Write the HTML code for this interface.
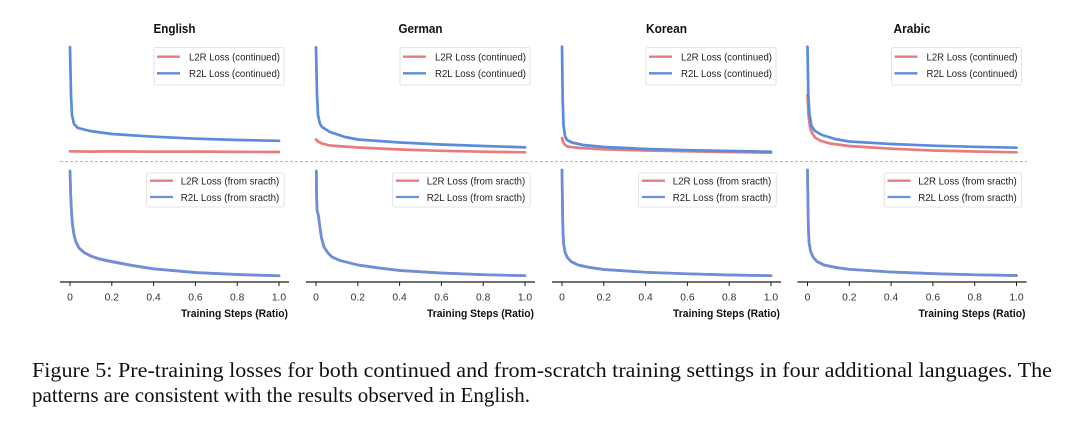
<!DOCTYPE html>
<html>
<head>
<meta charset="utf-8">
<style>
  html, body { margin:0; padding:0; background:#fff; }
  body { width:1080px; height:430px; overflow:hidden; }
  svg { display:block; }
  .sans { font-family: "Liberation Sans", "DejaVu Sans", sans-serif; }
  .serif { font-family: "Liberation Serif", "DejaVu Serif", serif; }
</style>
</head>
<body>
<svg width="1080" height="430" viewBox="0 0 1080 430" xmlns="http://www.w3.org/2000/svg">
  <rect width="1080" height="430" fill="#fff"/>

  <!-- Titles -->
  <g class="sans" font-weight="bold" font-size="12.5" fill="#111" text-anchor="middle">
    <text x="174.5" y="33" textLength="42" lengthAdjust="spacingAndGlyphs">English</text>
    <text x="420.5" y="33" textLength="44" lengthAdjust="spacingAndGlyphs">German</text>
    <text x="666.5" y="33" textLength="41" lengthAdjust="spacingAndGlyphs">Korean</text>
    <text x="912" y="33" textLength="37" lengthAdjust="spacingAndGlyphs">Arabic</text>
  </g>

  <!-- Dashed separator -->
  <line x1="60" y1="161.5" x2="1027" y2="161.5" stroke="#b5b5b5" stroke-width="0.9" stroke-dasharray="3,2"/>

  <g fill="none" stroke-linejoin="round" stroke-linecap="round" stroke-width="2.7">
    <!-- ===== TOP: English ===== -->
    <polyline stroke="#e77c7e" points="70,151.3 90,151.6 112,151.4 154,151.7 196,151.6 238,151.9 279,152"/>
    <polyline stroke="#5b8bdb" points="70,47 71,95 72,115 74,124 78,128 90,131 112,134 154,136.7 196,138.7 238,140 279,140.8"/>

    <!-- ===== TOP: German ===== -->
    <polyline stroke="#e77c7e" points="316,139.5 318,141.5 322,143.5 330,145.5 358,147.5 400,149.5 441,150.8 483,151.7 525,152.3"/>
    <polyline stroke="#5b8bdb" points="316,47.3 317,95 318,115 320,124 322,127 330,132 345,137 358,139.5 400,142.5 441,144.5 483,146 525,147.3"/>

    <!-- ===== TOP: Korean ===== -->
    <polyline stroke="#e77c7e" points="562,138 563,142 565,145 568,146.7 580,148 604,149.3 646,150.5 688,151.3 730,152 771,152.7"/>
    <polyline stroke="#5b8bdb" points="562,46.7 562.7,100 563.5,125 565,136 567,140 572,142.5 583,145 604,147 646,149 688,150.2 730,151 771,151.7"/>

    <!-- ===== TOP: Arabic ===== -->
    <polyline stroke="#e77c7e" points="807.5,95 808.5,115 810,127 812,133 815,137.5 820,140.5 830,143.5 849,146 891,148.7 933,150.5 975,151.5 1016.5,152.3"/>
    <polyline stroke="#5b8bdb" points="807.5,46.7 808.3,95 809.5,115 811.5,126 815,131 822,135 835,139 849,141.5 891,144 933,145.7 975,146.8 1016.5,147.7"/>

    <!-- ===== BOTTOM: English ===== -->
    <polyline stroke="#e77c7e" points="70,171 70.7,195 71.5,212 72.5,225 74,235 76,242 79,248 84,252.5 91,256.3 100,259.3 112,261.9 133,265.8 154,269 196,272.7 238,274.7 279,275.8"/>
    <polyline stroke="#6a8fdc" points="70,171 70.7,195 71.5,212 72.5,225 74,235 76,242 79,248 84,252.5 91,256 100,259 112,261.5 133,265.5 154,268.8 196,272.5 238,274.5 279,275.7"/>

    <!-- ===== BOTTOM: German ===== -->
    <polyline stroke="#e77c7e" points="316.3,171 316.6,195 317,210 318.5,216 320,228 321.5,238 324,247 328,253 332,257 340,260.5 358,265 379,268 400,270.5 441,273 483,274.7 525,275.7"/>
    <polyline stroke="#6a8fdc" points="316.3,171 316.6,195 317,210 318.5,216 320,228 321.5,238 324,247 328,253 332,257 340,260.5 358,265 379,268 400,270.5 441,273 483,274.7 525,275.7"/>

    <!-- ===== BOTTOM: Korean ===== -->
    <polyline stroke="#e77c7e" points="562,170 562.4,200 562.8,225 563.5,243 565,252 567,257 571,261.5 578,265 590,267.5 604,269.5 646,272.3 688,273.8 730,275 771,275.7"/>
    <polyline stroke="#6a8fdc" points="562,170 562.4,200 562.8,225 563.5,243 565,252 567,257 571,261.5 578,265 590,267.5 604,269.5 646,272.3 688,273.8 730,275 771,275.7"/>

    <!-- ===== BOTTOM: Arabic ===== -->
    <polyline stroke="#e77c7e" points="807.5,170 807.9,200 808.3,225 809,242 810.5,251 813,257 817,261.5 824,265 836,267.5 849,269.3 891,272 933,273.6 975,274.8 1016.5,275.5"/>
    <polyline stroke="#6a8fdc" points="807.5,170 807.9,200 808.3,225 809,242 810.5,251 813,257 817,261.5 824,265 836,267.5 849,269.3 891,272 933,273.6 975,274.8 1016.5,275.5"/>
  </g>

  <!-- Top legends -->
  <g class="sans" font-size="10.3" fill="#222">
    <!-- English -->
    <rect x="154" y="47.5" width="130" height="37.5" rx="2" fill="#fff" fill-opacity="0.9" stroke="#dcdcdc" stroke-width="0.8"/>
    <line x1="157" y1="56.7" x2="180" y2="56.7" stroke="#e77c7e" stroke-width="2.3"/>
    <line x1="157" y1="73.3" x2="180" y2="73.3" stroke="#5b8bdb" stroke-width="2.3"/>
    <text x="189" y="60.5" textLength="91" lengthAdjust="spacingAndGlyphs">L2R Loss (continued)</text>
    <text x="189" y="77.1" textLength="91" lengthAdjust="spacingAndGlyphs">R2L Loss (continued)</text>
    <!-- German -->
    <rect x="400" y="47.5" width="130" height="37.5" rx="2" fill="#fff" fill-opacity="0.9" stroke="#dcdcdc" stroke-width="0.8"/>
    <line x1="403" y1="56.7" x2="426" y2="56.7" stroke="#e77c7e" stroke-width="2.3"/>
    <line x1="403" y1="73.3" x2="426" y2="73.3" stroke="#5b8bdb" stroke-width="2.3"/>
    <text x="435" y="60.5" textLength="91" lengthAdjust="spacingAndGlyphs">L2R Loss (continued)</text>
    <text x="435" y="77.1" textLength="91" lengthAdjust="spacingAndGlyphs">R2L Loss (continued)</text>
    <!-- Korean -->
    <rect x="646" y="47.5" width="130" height="37.5" rx="2" fill="#fff" fill-opacity="0.9" stroke="#dcdcdc" stroke-width="0.8"/>
    <line x1="649" y1="56.7" x2="672" y2="56.7" stroke="#e77c7e" stroke-width="2.3"/>
    <line x1="649" y1="73.3" x2="672" y2="73.3" stroke="#5b8bdb" stroke-width="2.3"/>
    <text x="681" y="60.5" textLength="91" lengthAdjust="spacingAndGlyphs">L2R Loss (continued)</text>
    <text x="681" y="77.1" textLength="91" lengthAdjust="spacingAndGlyphs">R2L Loss (continued)</text>
    <!-- Arabic -->
    <rect x="891.5" y="47.5" width="130" height="37.5" rx="2" fill="#fff" fill-opacity="0.9" stroke="#dcdcdc" stroke-width="0.8"/>
    <line x1="894.5" y1="56.7" x2="917.5" y2="56.7" stroke="#e77c7e" stroke-width="2.3"/>
    <line x1="894.5" y1="73.3" x2="917.5" y2="73.3" stroke="#5b8bdb" stroke-width="2.3"/>
    <text x="926.5" y="60.5" textLength="91" lengthAdjust="spacingAndGlyphs">L2R Loss (continued)</text>
    <text x="926.5" y="77.1" textLength="91" lengthAdjust="spacingAndGlyphs">R2L Loss (continued)</text>
  </g>

  <!-- Bottom legends -->
  <g class="sans" font-size="10.3" fill="#222">
    <!-- English -->
    <rect x="146.7" y="173" width="137.5" height="34" rx="2" fill="#fff" fill-opacity="0.9" stroke="#dcdcdc" stroke-width="0.8"/>
    <line x1="150" y1="180.7" x2="173" y2="180.7" stroke="#e77c7e" stroke-width="2.3"/>
    <line x1="150" y1="197" x2="173" y2="197" stroke="#6a8fdc" stroke-width="2.3"/>
    <text x="180.7" y="184.5" textLength="98.6" lengthAdjust="spacingAndGlyphs">L2R Loss (from sracth)</text>
    <text x="180.7" y="200.8" textLength="98.6" lengthAdjust="spacingAndGlyphs">R2L Loss (from sracth)</text>
    <!-- German -->
    <rect x="392.7" y="173" width="137.5" height="34" rx="2" fill="#fff" fill-opacity="0.9" stroke="#dcdcdc" stroke-width="0.8"/>
    <line x1="396" y1="180.7" x2="419" y2="180.7" stroke="#e77c7e" stroke-width="2.3"/>
    <line x1="396" y1="197" x2="419" y2="197" stroke="#6a8fdc" stroke-width="2.3"/>
    <text x="426.7" y="184.5" textLength="98.6" lengthAdjust="spacingAndGlyphs">L2R Loss (from sracth)</text>
    <text x="426.7" y="200.8" textLength="98.6" lengthAdjust="spacingAndGlyphs">R2L Loss (from sracth)</text>
    <!-- Korean -->
    <rect x="638.7" y="173" width="137.5" height="34" rx="2" fill="#fff" fill-opacity="0.9" stroke="#dcdcdc" stroke-width="0.8"/>
    <line x1="642" y1="180.7" x2="665" y2="180.7" stroke="#e77c7e" stroke-width="2.3"/>
    <line x1="642" y1="197" x2="665" y2="197" stroke="#6a8fdc" stroke-width="2.3"/>
    <text x="672.7" y="184.5" textLength="98.6" lengthAdjust="spacingAndGlyphs">L2R Loss (from sracth)</text>
    <text x="672.7" y="200.8" textLength="98.6" lengthAdjust="spacingAndGlyphs">R2L Loss (from sracth)</text>
    <!-- Arabic -->
    <rect x="884.2" y="173" width="137.5" height="34" rx="2" fill="#fff" fill-opacity="0.9" stroke="#dcdcdc" stroke-width="0.8"/>
    <line x1="887.5" y1="180.7" x2="910.5" y2="180.7" stroke="#e77c7e" stroke-width="2.3"/>
    <line x1="887.5" y1="197" x2="910.5" y2="197" stroke="#6a8fdc" stroke-width="2.3"/>
    <text x="918.2" y="184.5" textLength="98.6" lengthAdjust="spacingAndGlyphs">L2R Loss (from sracth)</text>
    <text x="918.2" y="200.8" textLength="98.6" lengthAdjust="spacingAndGlyphs">R2L Loss (from sracth)</text>
  </g>

  <!-- X axes -->
  <g stroke="#1a1a1a" stroke-width="1.3">
    <line x1="60" y1="282" x2="289" y2="282"/>
    <line x1="306" y1="282" x2="535" y2="282"/>
    <line x1="552" y1="282" x2="781" y2="282"/>
    <line x1="797.5" y1="282" x2="1026.5" y2="282"/>
  </g>
  <g stroke="#1a1a1a" stroke-width="1">
    <line x1="70" y1="282" x2="70" y2="286"/><line x1="111.8" y1="282" x2="111.8" y2="286"/><line x1="153.6" y1="282" x2="153.6" y2="286"/><line x1="195.4" y1="282" x2="195.4" y2="286"/><line x1="237.2" y1="282" x2="237.2" y2="286"/><line x1="279" y1="282" x2="279" y2="286"/>
    <line x1="316" y1="282" x2="316" y2="286"/><line x1="357.8" y1="282" x2="357.8" y2="286"/><line x1="399.6" y1="282" x2="399.6" y2="286"/><line x1="441.4" y1="282" x2="441.4" y2="286"/><line x1="483.2" y1="282" x2="483.2" y2="286"/><line x1="525" y1="282" x2="525" y2="286"/>
    <line x1="562" y1="282" x2="562" y2="286"/><line x1="603.8" y1="282" x2="603.8" y2="286"/><line x1="645.6" y1="282" x2="645.6" y2="286"/><line x1="687.4" y1="282" x2="687.4" y2="286"/><line x1="729.2" y1="282" x2="729.2" y2="286"/><line x1="771" y1="282" x2="771" y2="286"/>
    <line x1="807.5" y1="282" x2="807.5" y2="286"/><line x1="849.3" y1="282" x2="849.3" y2="286"/><line x1="891.1" y1="282" x2="891.1" y2="286"/><line x1="932.9" y1="282" x2="932.9" y2="286"/><line x1="974.7" y1="282" x2="974.7" y2="286"/><line x1="1016.5" y1="282" x2="1016.5" y2="286"/>
  </g>

  <!-- Tick labels -->
  <g class="sans" font-size="10.3" fill="#333" text-anchor="middle">
    <text x="70" y="300.5">0</text><text x="111.8" y="300.5">0.2</text><text x="153.6" y="300.5">0.4</text><text x="195.4" y="300.5">0.6</text><text x="237.2" y="300.5">0.8</text><text x="279" y="300.5">1.0</text>
    <text x="316" y="300.5">0</text><text x="357.8" y="300.5">0.2</text><text x="399.6" y="300.5">0.4</text><text x="441.4" y="300.5">0.6</text><text x="483.2" y="300.5">0.8</text><text x="525" y="300.5">1.0</text>
    <text x="562" y="300.5">0</text><text x="603.8" y="300.5">0.2</text><text x="645.6" y="300.5">0.4</text><text x="687.4" y="300.5">0.6</text><text x="729.2" y="300.5">0.8</text><text x="771" y="300.5">1.0</text>
    <text x="807.5" y="300.5">0</text><text x="849.3" y="300.5">0.2</text><text x="891.1" y="300.5">0.4</text><text x="932.9" y="300.5">0.6</text><text x="974.7" y="300.5">0.8</text><text x="1016.5" y="300.5">1.0</text>
  </g>

  <!-- X labels -->
  <g class="sans" font-size="10.8" font-weight="bold" fill="#111">
    <text x="181" y="317" textLength="107" lengthAdjust="spacingAndGlyphs">Training Steps (Ratio)</text>
    <text x="427" y="317" textLength="107" lengthAdjust="spacingAndGlyphs">Training Steps (Ratio)</text>
    <text x="673" y="317" textLength="107" lengthAdjust="spacingAndGlyphs">Training Steps (Ratio)</text>
    <text x="918.5" y="317" textLength="107" lengthAdjust="spacingAndGlyphs">Training Steps (Ratio)</text>
  </g>

  <!-- Caption -->
  <g class="serif" font-size="21" fill="#111">
    <text x="32" y="377" textLength="1020" lengthAdjust="spacingAndGlyphs">Figure 5: Pre-training losses for both continued and from-scratch training settings in four additional languages. The</text>
    <text x="32" y="402" textLength="498" lengthAdjust="spacingAndGlyphs">patterns are consistent with the results observed in English.</text>
  </g>
</svg>
</body>
</html>
